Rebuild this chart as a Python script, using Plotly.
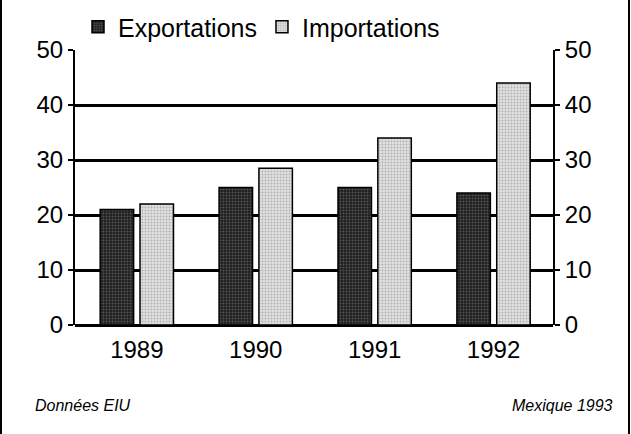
import plotly.graph_objects as go

years = ["1989", "1990", "1991", "1992"]
exportations = [21, 25, 25, 24]
importations = [22, 28.5, 34, 44]
y_ticks = [0, 10, 20, 30, 40, 50]

FONT = "Liberation Sans, Arial, Helvetica, sans-serif"

fig = go.Figure()
fig.add_trace(go.Bar(
    x=years, y=exportations, name="Exportations",
    marker=dict(color="#1e1e1e", line=dict(color="black", width=1.5),
                pattern=dict(shape=".", fgcolor="#8a8a8a", bgcolor="#1e1e1e",
                             size=3, solidity=0.35)),
))
fig.add_trace(go.Bar(
    x=years, y=importations, name="Importations",
    marker=dict(color="#d0d0d0", line=dict(color="black", width=1.5),
                pattern=dict(shape=".", fgcolor="#808080", bgcolor="#e2e2e2",
                             size=3, solidity=0.35)),
))
# invisible trace to activate right axis
fig.add_trace(go.Scatter(x=years, y=exportations, yaxis="y2", mode="markers",
                         marker=dict(opacity=0), showlegend=False, hoverinfo="skip"))

L, R, T, B = 75, 78, 50, 109
W, H = 631, 434
pw = W - L - R
ph = H - T - B

fig.update_layout(
    width=W, height=H,
    margin=dict(l=L, r=R, t=T, b=B, autoexpand=False),
    paper_bgcolor="white", plot_bgcolor="white",
    barmode="group", bargap=0.33, bargroupgap=0.16,
    font=dict(family=FONT, size=24, color="black"),
    showlegend=True,
    legend=dict(orientation="h", xref="container", yref="container",
                x=78 / W, y=1 - 4 / H, xanchor="left", yanchor="top",
                font=dict(size=25), traceorder="normal",
                bgcolor="rgba(0,0,0,0)"),
    xaxis=dict(type="category", range=[-0.52, 3.5], showgrid=False, showline=False,
               ticks="", tickfont=dict(size=24), zeroline=False, automargin=False,
               ticklabelstandoff=8),
    yaxis=dict(range=[0, 50], tickvals=y_ticks, showgrid=True, gridcolor="black",
               gridwidth=2.5, showline=True, linecolor="black", linewidth=2,
               ticks="outside", ticklen=5, tickwidth=2, tickcolor="black",
               tickfont=dict(size=24), zeroline=True, zerolinecolor="black",
               zerolinewidth=2.5, automargin=False),
    yaxis2=dict(range=[0, 50], tickvals=y_ticks, overlaying="y", side="right",
                showgrid=False, showline=True, linecolor="black", linewidth=2,
                ticks="outside", ticklen=5, tickwidth=2, tickcolor="black",
                tickfont=dict(size=24), zeroline=False, automargin=False),
    annotations=[
        dict(text="<i>Données EIU</i>", xref="paper", yref="paper",
             x=(33 - L) / pw, y=-(405 - (H - B)) / ph, xanchor="left", yanchor="middle",
             showarrow=False, font=dict(size=16)),
        dict(text="<i>Mexique 1993</i>", xref="paper", yref="paper",
             x=(615 - L) / pw, y=-(405 - (H - B)) / ph, xanchor="right", yanchor="middle",
             showarrow=False, font=dict(size=16)),
    ],
    shapes=[
        dict(type="line", xref="paper", yref="paper", x0=(1 - L) / pw, x1=(1 - L) / pw,
             y0=-B / ph, y1=(H - T) / ph, line=dict(color="black", width=2)),
        dict(type="line", xref="paper", yref="paper", x0=(629 - L) / pw, x1=(629 - L) / pw,
             y0=-B / ph, y1=(H - T) / ph, line=dict(color="black", width=2)),
    ],
)

fig.write_html("out.html", config={"displayModeBar": False},
               post_script="document.body.style.margin='0';document.body.style.overflow='hidden';")
